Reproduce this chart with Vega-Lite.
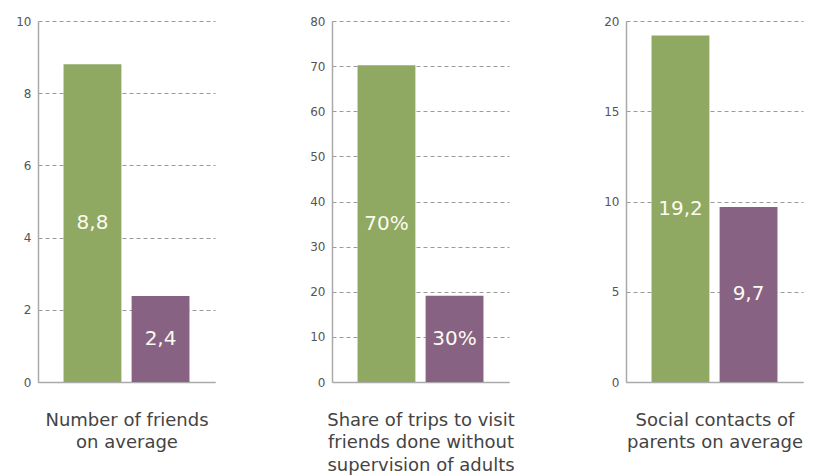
{
  "$schema": "https://vega.github.io/schema/vega-lite/v6.json",
  "background": "white",
  "padding": {"left": 15, "top": 15, "right": 5, "bottom": 5},
  "config": {
    "font": "DejaVu Sans",
    "view": {"stroke": null},
    "axis": {
      "domainColor": "#aaaaaa",
      "domainWidth": 1.5,
      "gridColor": "#9a9a9a",
      "gridDash": [4, 3],
      "gridWidth": 1,
      "labelColor": "#555555",
      "labelFontSize": 12,
      "ticks": false,
      "labelPadding": 7,
      "titleFontWeight": "normal",
      "titleFontSize": 18,
      "titleColor": "#444444",
      "titleLineHeight": 22.5
    }
  },
  "datasets": {
    "d": [
      {"panel": 1, "group": "A", "value": 8.8, "label": "8,8"},
      {"panel": 1, "group": "B", "value": 2.38, "label": "2,4"},
      {"panel": 2, "group": "A", "value": 70.2, "label": "70%"},
      {"panel": 2, "group": "B", "value": 19.1, "label": "30%"},
      {"panel": 3, "group": "A", "value": 19.2, "label": "19,2"},
      {"panel": 3, "group": "B", "value": 9.7, "label": "9,7"}
    ]
  },
  "bounds": "flush",
  "spacing": 117,
  "hconcat": [
    {
      "width": 177,
      "height": 361,
      "data": {"name": "d"},
      "transform": [{"filter": "datum.panel == 1"}],
      "layer": [
        {
          "mark": {"type": "bar"},
          "encoding": {
            "x": {"field": "group", "type": "nominal", "scale": {"paddingInner": 0.15, "paddingOuter": 0.375},
              "axis": {"title": ["Number of friends", "on average"], "labels": false, "grid": false, "titlePadding": 29}},
            "y": {"field": "value", "type": "quantitative", "scale": {"domain": [0, 10], "nice": false},
              "axis": {"title": null, "values": [0, 2, 4, 6, 8, 10], "grid": true}},
            "color": {"field": "group", "type": "nominal", "scale": {"domain": ["A", "B"], "range": ["#8fa862", "#876283"]}, "legend": null}
          }
        },
        {
          "mark": {"type": "text", "color": "#fbfbf0", "fontSize": 20, "baseline": "middle"},
          "encoding": {
            "x": {"field": "group", "type": "nominal"},
            "y": {"field": "value", "type": "quantitative", "scale": {"domain": [0, 20], "nice": false}, "axis": null},
            "text": {"field": "label"}
          }
        }
      ],
      "resolve": {"scale": {"y": "independent"}}
    },
    {
      "width": 177,
      "height": 361,
      "data": {"name": "d"},
      "transform": [{"filter": "datum.panel == 2"}],
      "layer": [
        {
          "mark": {"type": "bar"},
          "encoding": {
            "x": {"field": "group", "type": "nominal", "scale": {"paddingInner": 0.15, "paddingOuter": 0.375},
              "axis": {"title": ["Share of trips to visit", "friends done without", "supervision of adults"], "labels": false, "grid": false, "titlePadding": 29}},
            "y": {"field": "value", "type": "quantitative", "scale": {"domain": [0, 80], "nice": false},
              "axis": {"title": null, "values": [0, 10, 20, 30, 40, 50, 60, 70, 80], "grid": true}},
            "color": {"field": "group", "type": "nominal", "scale": {"domain": ["A", "B"], "range": ["#8fa862", "#876283"]}, "legend": null}
          }
        },
        {
          "mark": {"type": "text", "color": "#fbfbf0", "fontSize": 20, "baseline": "middle"},
          "encoding": {
            "x": {"field": "group", "type": "nominal"},
            "y": {"field": "value", "type": "quantitative", "scale": {"domain": [0, 160], "nice": false}, "axis": null},
            "text": {"field": "label"}
          }
        }
      ],
      "resolve": {"scale": {"y": "independent"}}
    },
    {
      "width": 177,
      "height": 361,
      "data": {"name": "d"},
      "transform": [{"filter": "datum.panel == 3"}],
      "layer": [
        {
          "mark": {"type": "bar"},
          "encoding": {
            "x": {"field": "group", "type": "nominal", "scale": {"paddingInner": 0.15, "paddingOuter": 0.375},
              "axis": {"title": ["Social contacts of", "parents on average"], "labels": false, "grid": false, "titlePadding": 29}},
            "y": {"field": "value", "type": "quantitative", "scale": {"domain": [0, 20], "nice": false},
              "axis": {"title": null, "values": [0, 5, 10, 15, 20], "grid": true}},
            "color": {"field": "group", "type": "nominal", "scale": {"domain": ["A", "B"], "range": ["#8fa862", "#876283"]}, "legend": null}
          }
        },
        {
          "mark": {"type": "text", "color": "#fbfbf0", "fontSize": 20, "baseline": "middle"},
          "encoding": {
            "x": {"field": "group", "type": "nominal"},
            "y": {"field": "value", "type": "quantitative", "scale": {"domain": [0, 40], "nice": false}, "axis": null},
            "text": {"field": "label"}
          }
        }
      ],
      "resolve": {"scale": {"y": "independent"}}
    }
  ]
}
